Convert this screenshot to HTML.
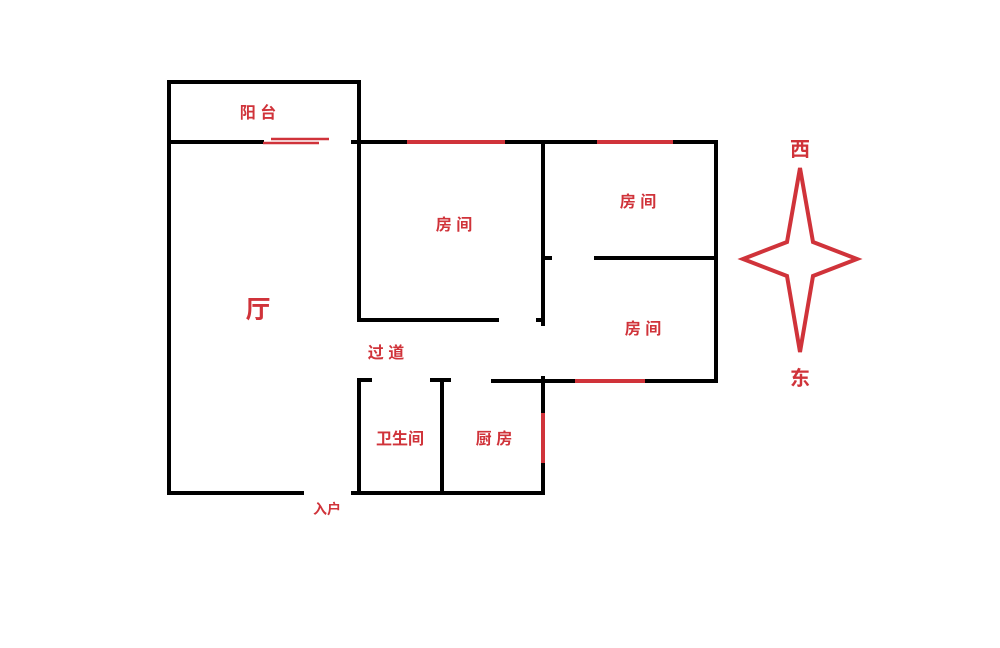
<!DOCTYPE html>
<html><head><meta charset="utf-8"><style>
html,body{margin:0;padding:0;background:#fff;}
svg text{font-family:"Liberation Sans","Noto Sans CJK SC",sans-serif;fill:#d0333a;font-weight:bold;}
</style></head><body>
<svg width="1000" height="643" viewBox="0 0 1000 643" xmlns="http://www.w3.org/2000/svg">
<g stroke="#000" stroke-width="4" fill="none" stroke-linecap="square">
<path d="M169 82 H359 V142"/>
<path d="M169 82 V493 H302"/>
<path d="M169 142 H262"/>
<path d="M353 142 H716 V381 H543"/>
<path d="M359 142 V320 H497"/>
<path d="M543 142 V324"/>
<path d="M543 258 H550"/>
<path d="M538 320 H543"/>
<path d="M596 258 H716"/>
<path d="M543 378 V493 H353"/>
<path d="M359 380 V493"/>
<path d="M359 380 H370"/>
<path d="M442 380 V493"/>
<path d="M432 380 H449"/>
<path d="M493 381 H543"/>
</g>
<g stroke="#d0333a" stroke-width="4" fill="none">
<path d="M407 142 H505"/>
<path d="M597 142 H673"/>
<path d="M575 381 H645"/>
<path d="M543 413 V463"/>
<path d="M271 139 H329" stroke-width="2.5"/>
<path d="M263 143 H319" stroke-width="2.5"/>
<path d="M800 168 L813 242 L857 259 L813 276 L800 352 L787 276 L743 259 L787 242 Z" stroke-width="4"/>
</g>
<text x="258" y="118" font-size="16" text-anchor="middle">阳 台</text>
<text x="258" y="318" font-size="25" font-weight="normal" text-anchor="middle">厅</text>
<text x="454" y="230" font-size="16" text-anchor="middle">房 间</text>
<text x="638" y="207" font-size="16" text-anchor="middle">房 间</text>
<text x="643" y="334" font-size="16" text-anchor="middle">房 间</text>
<text x="386" y="358" font-size="16" text-anchor="middle">过 道</text>
<text x="400" y="444" font-size="16" text-anchor="middle">卫生间</text>
<text x="494" y="444" font-size="16" text-anchor="middle">厨 房</text>
<text x="327" y="514" font-size="14" text-anchor="middle">入户</text>
<text x="800" y="156" font-size="20" text-anchor="middle">西</text>
<text x="800" y="385" font-size="20" text-anchor="middle">东</text>
</svg>
</body></html>
